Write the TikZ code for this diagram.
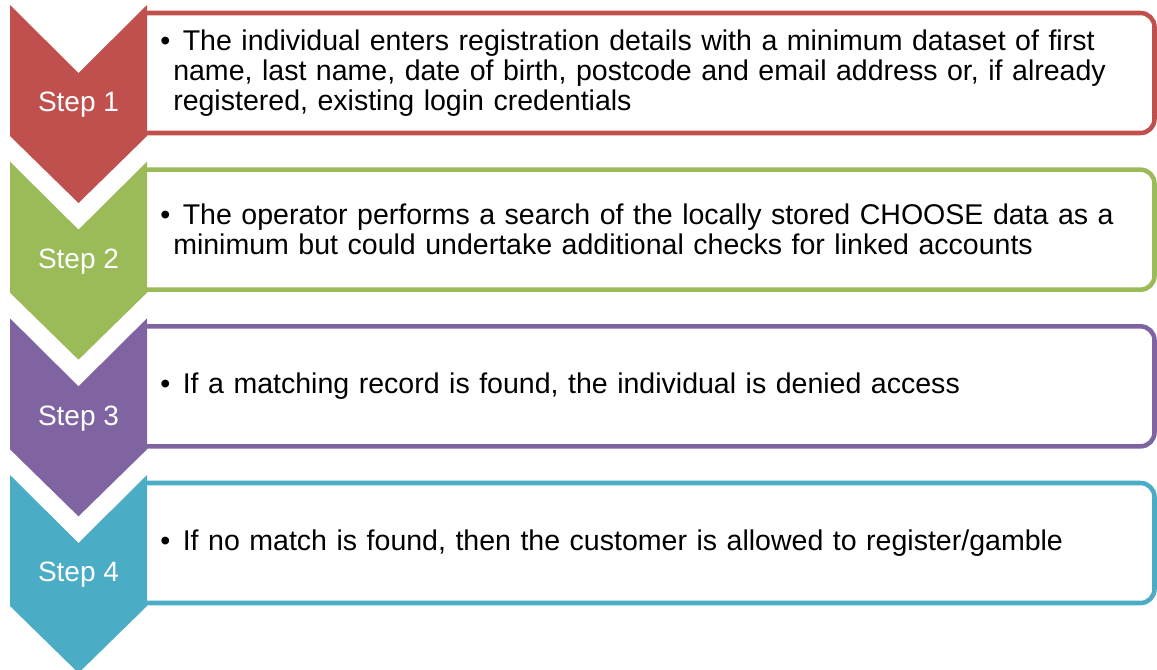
\documentclass[tikz,border=0pt]{standalone}
\usepackage{fontspec}
\setmainfont{Liberation Sans}
\definecolor{stepred}{HTML}{C0504D}
\definecolor{stepgreen}{HTML}{9BBB59}
\definecolor{steppurple}{HTML}{8064A2}
\definecolor{stepteal}{HTML}{4BACC6}
\begin{document}
\begin{tikzpicture}[x=0.75pt,y=0.75pt,yscale=-1,xscale=1,
  stepbox/.style={draw=#1,line width=3.4pt,rounded corners=10.5pt},
  steplabel/.style={text=white,inner sep=0pt,font=\fontsize{21}{25}\selectfont},
  bullettext/.style={anchor=west,inner sep=0pt,text width=750pt,align=left,font=\fontsize{21.4}{22.5}\selectfont}]
\useasboundingbox (0,0) rectangle (1157,669);

%Shape: Rounded Box [id:step1box]
\draw [stepbox=stepred] (147,13) -- (1154.5,13) -- (1154.5,133) -- (147,133) ;
%Shape: Rounded Box [id:step2box]
\draw [stepbox=stepgreen] (147,169.67) -- (1154.5,169.67) -- (1154.5,289.67) -- (147,289.67) ;
%Shape: Rounded Box [id:step3box]
\draw [stepbox=steppurple] (147,326.33) -- (1154.5,326.33) -- (1154.5,446.33) -- (147,446.33) ;
%Shape: Rounded Box [id:step4box]
\draw [stepbox=stepteal] (147,483) -- (1154.5,483) -- (1154.5,603) -- (147,603) ;

%Shape: Chevron [id:step1arrow]
\fill [stepred] (10,5) -- (78.5,73) -- (147,5) -- (147,136) -- (78.5,203) -- (10,136) -- cycle ;
%Shape: Chevron [id:step2arrow]
\fill [stepgreen] (10,161.67) -- (78.5,229.67) -- (147,161.67) -- (147,292.67) -- (78.5,359.67) -- (10,292.67) -- cycle ;
%Shape: Chevron [id:step3arrow]
\fill [steppurple] (10,318.33) -- (78.5,386.33) -- (147,318.33) -- (147,449.33) -- (78.5,516.33) -- (10,449.33) -- cycle ;
%Shape: Chevron [id:step4arrow]
\fill [stepteal] (10,475) -- (78.5,543) -- (147,475) -- (147,606) -- (78.5,673) -- (10,606) -- cycle ;

% Text Node
\node [steplabel] (step1) at (78.5,105) {Step 1};
% Text Node
\node [steplabel] (step2) at (78.5,261.67) {Step 2};
% Text Node
\node [steplabel] (step3) at (78.5,418.33) {Step 3};
% Text Node
\node [steplabel] (step4) at (78.5,575) {Step 4};

% Text Node
\node [bullettext] (text1) at (160,73) {\makebox[9.75pt][l]{\textbullet}\ The individual enters registration details with a minimum dataset of first\\
\hspace*{9.75pt}name, last name, date of birth, postcode and email address or, if already\\
\hspace*{9.75pt}registered, existing login credentials};
% Text Node
\node [bullettext] (text2) at (160,229.67) {\makebox[9.75pt][l]{\textbullet}\ The operator performs a search of the locally stored CHOOSE data as a\\
\hspace*{9.75pt}minimum but could undertake additional checks for linked accounts};
% Text Node
\node [bullettext] (text3) at (160,386.33) {\makebox[9.75pt][l]{\textbullet}\ If a matching record is found, the individual is denied access};
% Text Node
\node [bullettext] (text4) at (160,543) {\makebox[9.75pt][l]{\textbullet}\ If no match is found, then the customer is allowed to register/gamble};

\end{tikzpicture}
\end{document}
